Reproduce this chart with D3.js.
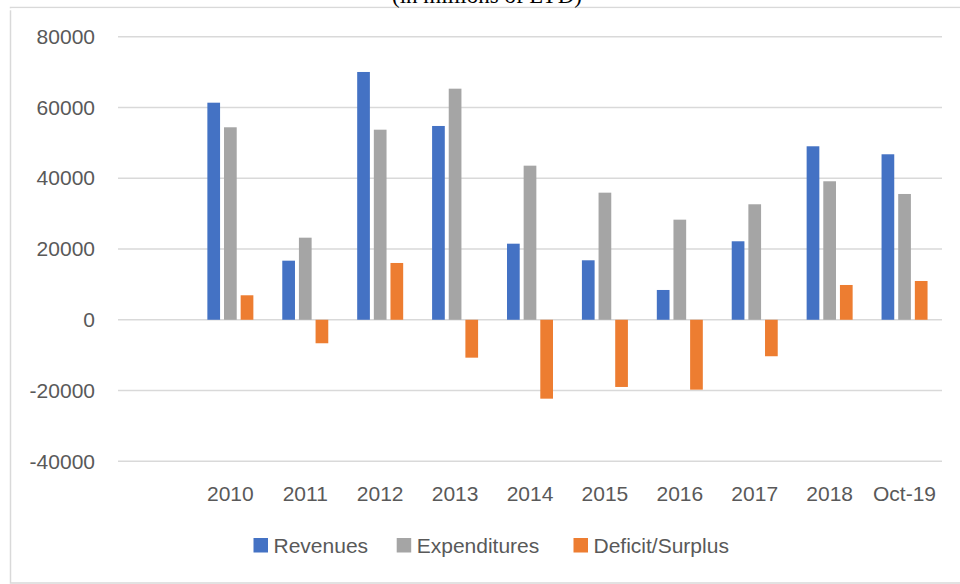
<!DOCTYPE html>
<html>
<head>
<meta charset="utf-8">
<script src="https://cdn.jsdelivr.net/npm/d3@7"></script>
<style>
  html, body { margin: 0; padding: 0; background: #fff; }
  svg { display: block; }
</style>
</head>
<body>
<svg id="chart" width="960" height="584"></svg>
<script>
const categories = ["2010", "2011", "2012", "2013", "2014", "2015", "2016", "2017", "2018", "Oct-19"];
const revenues = [61350, 16700, 70030, 54770, 21500, 16810, 8420, 22180, 49030, 46770];
const expenditures = [54400, 23200, 53720, 65310, 43550, 35920, 28290, 32640, 39140, 35550];
const deficitSurplus = [6920, -6640, 16050, -10710, -22300, -18990, -19750, -10310, 9830, 10960];
const seriesNames = ["Revenues", "Expenditures", "Deficit/Surplus"];
const seriesColors = ["#4472C4", "#A5A5A5", "#ED7D31"];
const yTicks = [80000, 60000, 40000, 20000, 0, -20000, -40000];
const titleText = "(in millions of LYD)";

const seriesValues = [revenues, expenditures, deficitSurplus];
const svg = d3.select("#chart");
const font = "'Liberation Sans', Arial, sans-serif";
const textColor = "#595959";

// outer chart border
svg.append("rect")
  .attr("x", 10.5).attr("y", 7.5)
  .attr("width", 1000).attr("height", 575.5)
  .attr("fill", "#fff").attr("stroke", "#D9D9D9").attr("stroke-width", 1.5);

// partially cut title (as in the reference image)
svg.append("text")
  .attr("x", 487).attr("y", 3)
  .attr("text-anchor", "middle")
  .attr("font-family", "'Liberation Serif', 'Times New Roman', serif")
  .attr("font-size", 23)
  .attr("fill", "#000")
  .text(titleText);
svg.append("rect").attr("x", 0).attr("y", 8.3).attr("width", 960).attr("height", 2).attr("fill", "#fff");

const plotLeft = 118, plotRight = 942;
const y = d3.scaleLinear().domain([-40000, 80000]).range([461.3, 36.7]);
const x0 = d3.scaleBand().domain([" ", ...categories]).range([plotLeft, plotRight]).padding(0);

// gridlines
svg.append("g").selectAll("line").data(yTicks).join("line")
  .attr("x1", plotLeft).attr("x2", plotRight)
  .attr("y1", d => y(d)).attr("y2", d => y(d))
  .attr("stroke", "#D9D9D9").attr("stroke-width", 1.5);

// y axis labels
const yAxis = d3.axisLeft(y).tickValues(yTicks).tickSize(0).tickPadding(0).tickFormat(d => String(d));
const yg = svg.append("g").attr("transform", "translate(95,0)").call(yAxis);
yg.select(".domain").remove();
yg.selectAll("text")
  .attr("font-family", font).attr("font-size", 21).attr("fill", textColor);

// bars
const groupWidth = 46;
const x1 = d3.scaleBand().domain(seriesNames).range([0, groupWidth]).paddingInner(0.237);

const groups = svg.append("g").selectAll("g").data(categories).join("g")
  .attr("transform", d => `translate(${x0(d) + x0.bandwidth() / 2 - groupWidth / 2},0)`);

groups.selectAll("rect")
  .data((d, i) => seriesNames.map((s, j) => ({ s, j, v: seriesValues[j][i] })))
  .join("rect")
  .attr("x", d => x1(d.s))
  .attr("width", x1.bandwidth())
  .attr("y", d => y(Math.max(0, d.v)))
  .attr("height", d => Math.abs(y(d.v) - y(0)))
  .attr("fill", d => seriesColors[d.j]);

// x labels
const xAxis = d3.axisBottom(x0).tickSize(0).tickPadding(0);
const xg = svg.append("g").attr("transform", "translate(0,485)").call(xAxis);
xg.select(".domain").remove();
xg.selectAll("text")
  .attr("dy", "0.76em")
  .attr("font-family", font).attr("font-size", 21).attr("fill", textColor);

// legend
const legendX = [253.5, 396.7, 573.5];
const legend = svg.append("g").selectAll("g").data(seriesNames).join("g")
  .attr("transform", (d, i) => `translate(${legendX[i]},538)`);
legend.append("rect")
  .attr("width", 14.5).attr("height", 14.5)
  .attr("fill", (d, i) => seriesColors[i]);
legend.append("text")
  .attr("x", 20).attr("y", 15.3)
  .attr("font-family", font).attr("font-size", 21).attr("fill", textColor)
  .text(d => d);
</script>
</body>
</html>
